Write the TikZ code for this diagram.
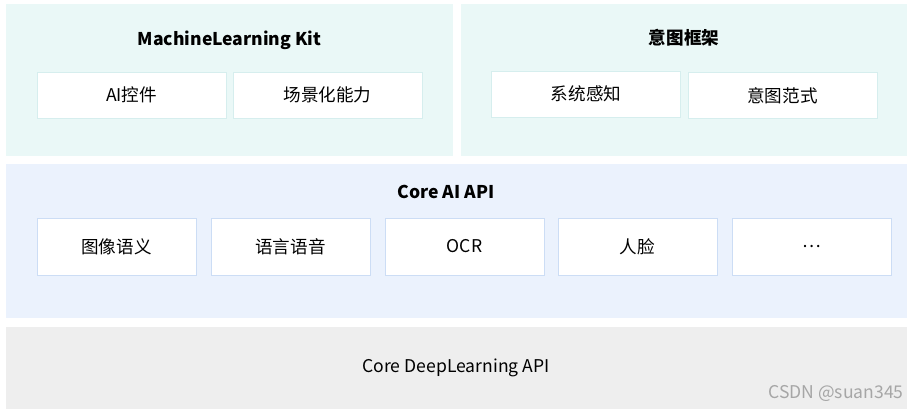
\documentclass[tikz,border=0pt]{standalone}
\usepackage{fontspec}
\setmainfont{Noto Sans CJK SC}
\definecolor{kitbg}{HTML}{EAF8F7}
\definecolor{kitline}{HTML}{D6EEEE}
\definecolor{apibg}{HTML}{EBF2FD}
\definecolor{apiline}{HTML}{CCDDF5}
\definecolor{dlbg}{HTML}{EEEEEE}
\begin{document}
\begin{tikzpicture}[x=0.02cm,y=-0.02cm,
  kitbox/.style={draw=kitline,fill=white,minimum width=3.78cm,minimum height=0.92cm,inner sep=0pt},
  apibox/.style={draw=apiline,fill=white,minimum width=3.18cm,minimum height=1.14cm,inner sep=0pt},
  layertitle/.style={font=\bfseries\fontsize{10}{12}\selectfont},
  every node/.append style={font=\fontsize{10}{12}\selectfont}]
\useasboundingbox (0,0) rectangle (907,409);
\fill[kitbg] (6,4) rectangle (453,156);
\fill[kitbg] (461,4) rectangle (907,156);
\fill[apibg] (6,164) rectangle (907,318);
\fill[dlbg] (6,327) rectangle (907,409);
% top layer
\node[layertitle] (mlkit) at (229.5,40) {MachineLearning Kit};
\node[kitbox] (aictl) at (131.5,95) {AI控件};
\node[kitbox] (scene) at (327.5,95) {场景化能力};
\node[layertitle] (intent) at (684,38) {意图框架};
\node[kitbox] (sense) at (586,94) {系统感知};
\node[kitbox] (paradigm) at (782.5,95.5) {意图范式};
% core ai
\node[layertitle] (coreai) at (446,192) {Core AI API};
\foreach \x/\n/\t in {116.5/image/图像语义,290.5/lang/语言语音,464.5/ocr/OCR,637.5/face/人脸,811.5/more/\dots}
  \node[apibox] (\n) at (\x,246.5) {\t};
% deep learning
\node (coredl) at (456,368) {Core DeepLearning API};
\node[text=black!35] (mark) at (836,393) {CSDN @suan345};
\end{tikzpicture}
\end{document}
